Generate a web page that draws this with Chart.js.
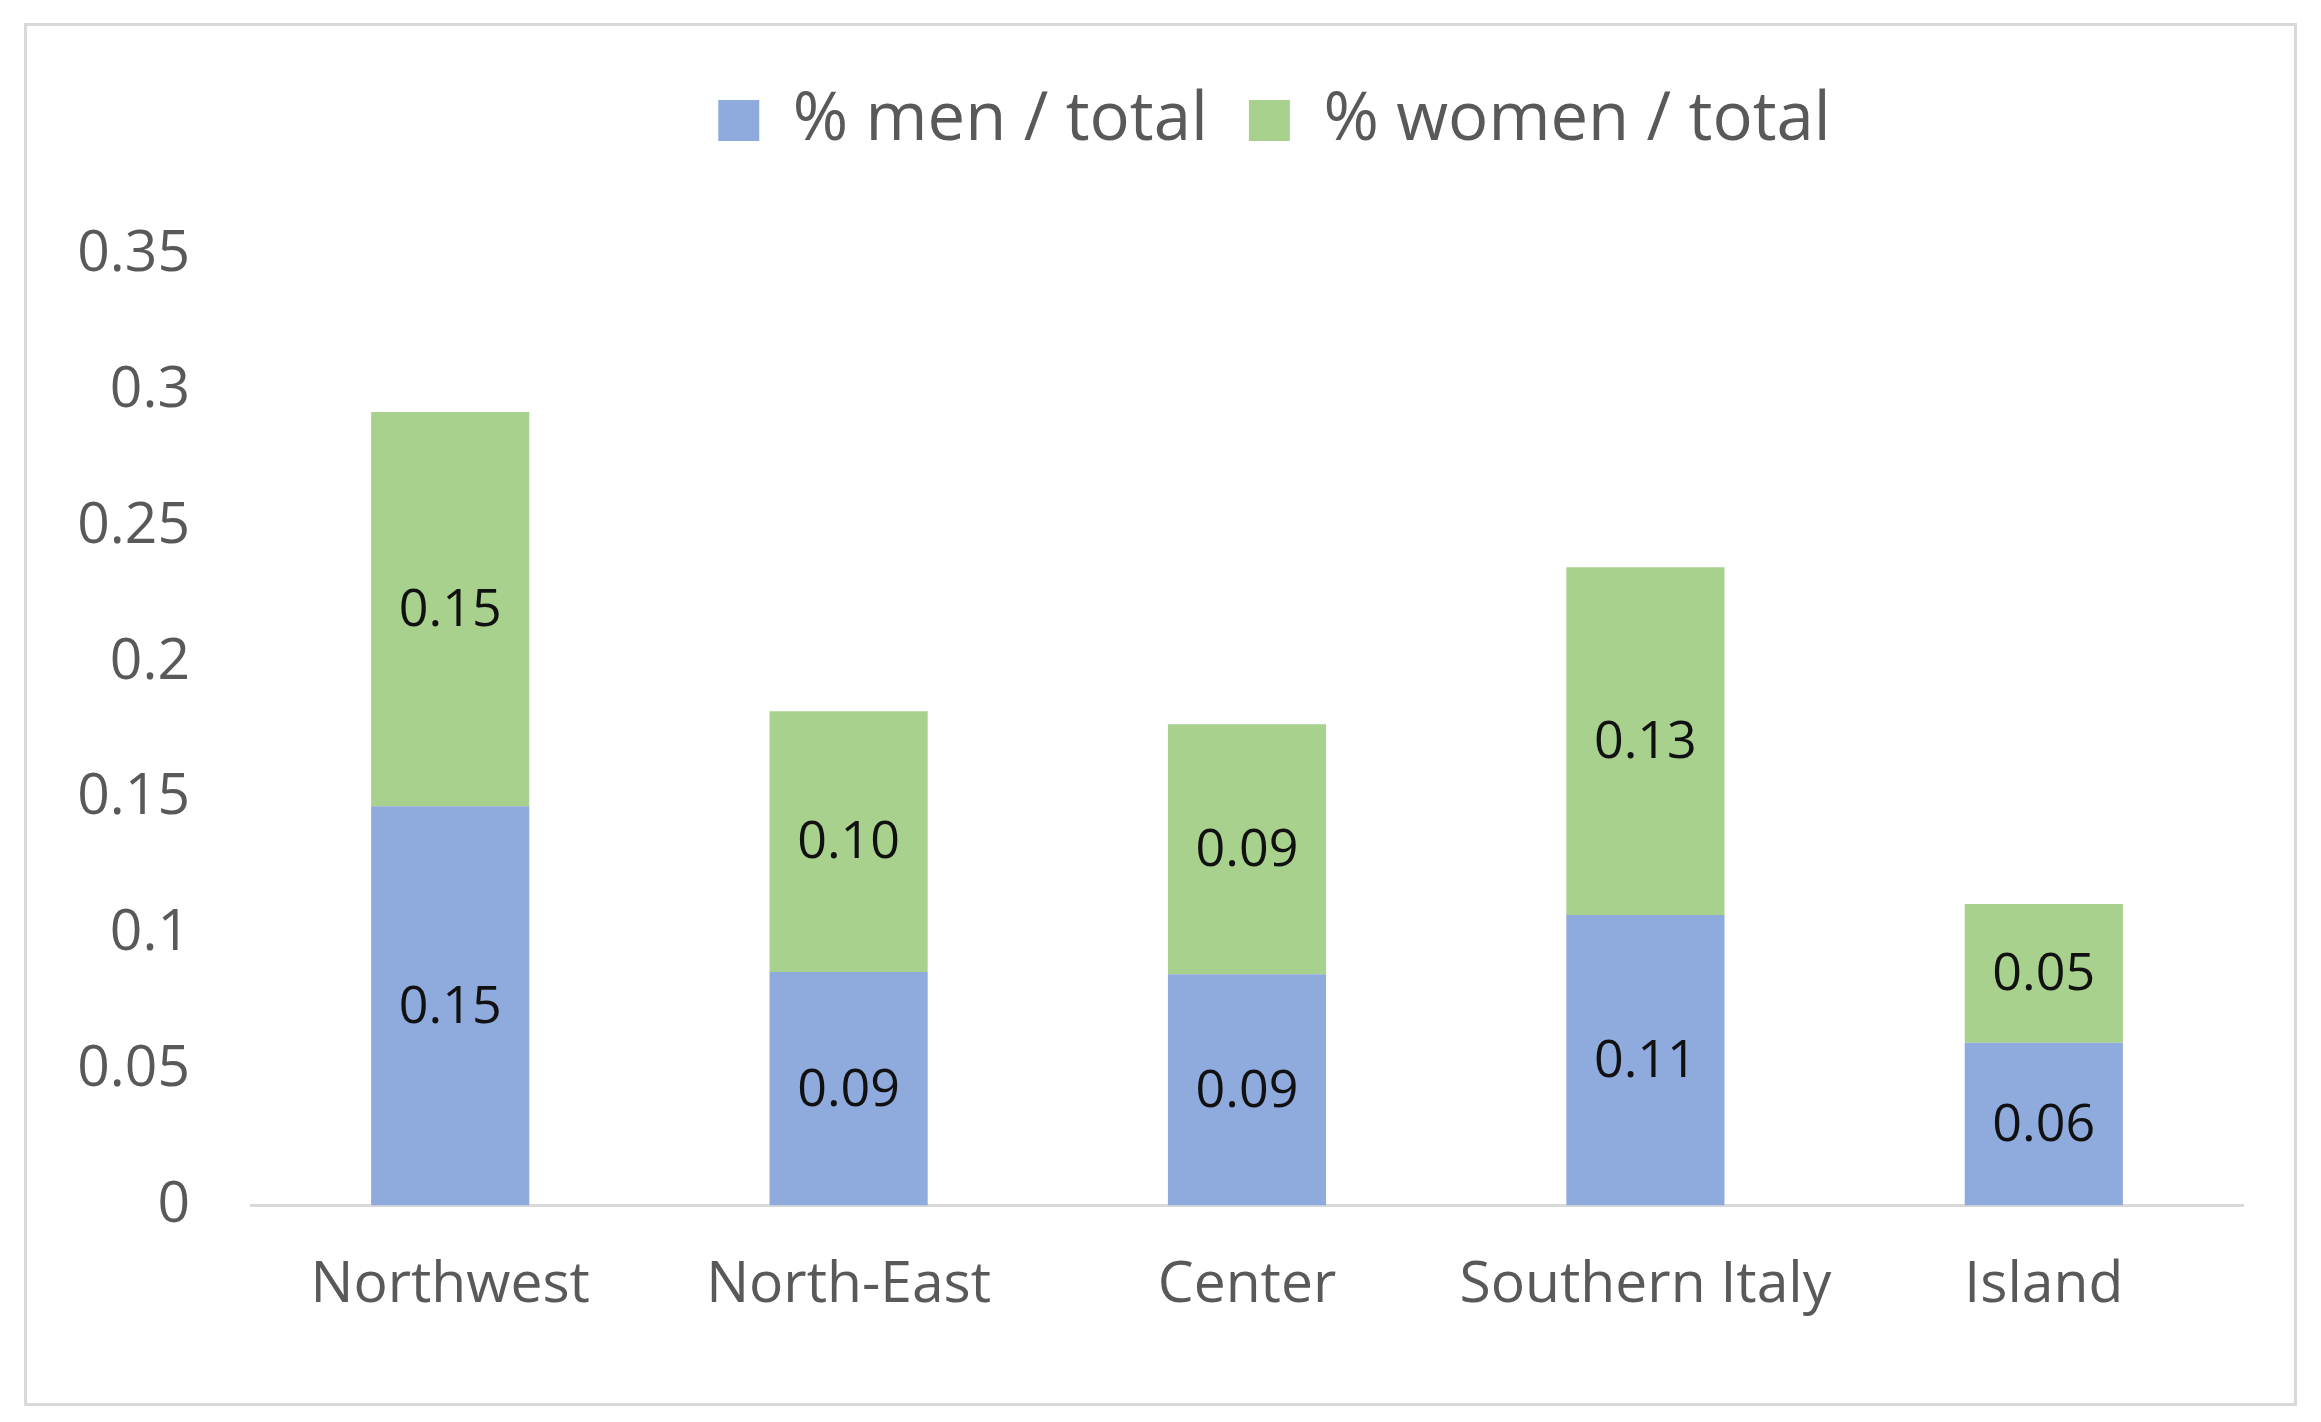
<!DOCTYPE html>
<html>
<head>
<meta charset="utf-8">
<script src="https://cdn.jsdelivr.net/npm/chart.js@4/dist/chart.umd.min.js"></script>
<style>
  html, body { margin: 0; padding: 0; background: #ffffff; }
  #wrap { position: relative; width: 2321px; height: 1422px; }
</style>
</head>
<body>
<div id="wrap"><canvas id="c" width="2321" height="1422"></canvas></div>
<script>
const categories = ['Northwest', 'North-East', 'Center', 'Southern Italy', 'Island'];
const menShare = [0.147, 0.086, 0.0852, 0.107, 0.060];
const womenShare = [0.1452, 0.096, 0.092, 0.128, 0.051];
const seriesNames = ['% men / total', '% women / total'];
const yTickLabels = ['0', '0.05', '0.1', '0.15', '0.2', '0.25', '0.3', '0.35'];

const FONT = "'Open Sans', 'Noto Sans', sans-serif";
const GREY = '#595959';

const frame = {
  id: 'frame',
  beforeDraw(chart) {
    const ctx = chart.ctx;
    ctx.save();
    ctx.fillStyle = '#ffffff';
    ctx.fillRect(0, 0, chart.width, chart.height);
    ctx.strokeStyle = '#d9d9d9';
    ctx.lineWidth = 3;
    ctx.strokeRect(25.5, 24.5, 2270, 1380);
    ctx.restore();
  }
};

const legendShift = {
  id: 'legendShift',
  afterLayout(chart) {
    if (chart.legend) {
      chart.legend.left += 138;
      chart.legend.right += 138;
    }
  }
};

const valueLabels = {
  id: 'valueLabels',
  afterDatasetsDraw(chart) {
    const ctx = chart.ctx;
    ctx.save();
    ctx.font = '52px ' + FONT;
    ctx.fillStyle = '#111111';
    ctx.textAlign = 'center';
    ctx.textBaseline = 'middle';
    chart.data.datasets.forEach((ds, di) => {
      const meta = chart.getDatasetMeta(di);
      meta.data.forEach((el, i) => {
        const v = ds.data[i];
        const cy = (el.y + el.base) / 2;
        ctx.fillText(v.toFixed(2), el.x, cy + 2);
      });
    });
    ctx.restore();
  }
};

new Chart(document.getElementById('c'), {
  type: 'bar',
  data: {
    labels: categories,
    datasets: [
      { label: seriesNames[0], data: menShare, backgroundColor: '#8FAADC', borderWidth: 0, xAxisID: 'x', yAxisID: 'y' },
      { label: seriesNames[1], data: womenShare, backgroundColor: '#A9D18E', borderWidth: 0, xAxisID: 'x', yAxisID: 'y' }
    ]
  },
  options: {
    responsive: false,
    animation: false,
    devicePixelRatio: 1,
    categoryPercentage: 1.0,
    barPercentage: 0.397,
    layout: { padding: { left: 30, right: 78, top: 46, bottom: 56 } },
    plugins: {
      tooltip: { enabled: false },
      legend: {
        position: 'top',
        align: 'center',
        labels: {
          boxWidth: 41,
          boxHeight: 41,
          padding: 41,
          color: GREY,
          font: { family: FONT, size: 67 }
        }
      }
    },
    scales: {
      x: {
        stacked: true,
        grid: { display: false, drawTicks: false },
        border: { display: true, color: '#d9d9d9', width: 3 },
        ticks: { color: GREY, padding: 46, font: { family: FONT, size: 57 } }
      },
      xT: {
        type: 'category',
        position: 'top',
        display: true,
        grid: { display: false, drawTicks: false },
        border: { display: false },
        ticks: { display: false },
        afterFit(s) { s.height = 91; }
      },
      y: {
        stacked: true,
        min: 0,
        max: 0.35,
        grid: { display: false, drawTicks: false },
        border: { display: false },
        ticks: {
          stepSize: 0.05,
          padding: 61,
          color: GREY,
          font: { family: FONT, size: 57 },
          callback: (v, i) => yTickLabels[i]
        },
        afterFit(s) { s.width = 221; }
      }
    }
  },
  plugins: [frame, legendShift, valueLabels]
});
</script>
</body>
</html>
